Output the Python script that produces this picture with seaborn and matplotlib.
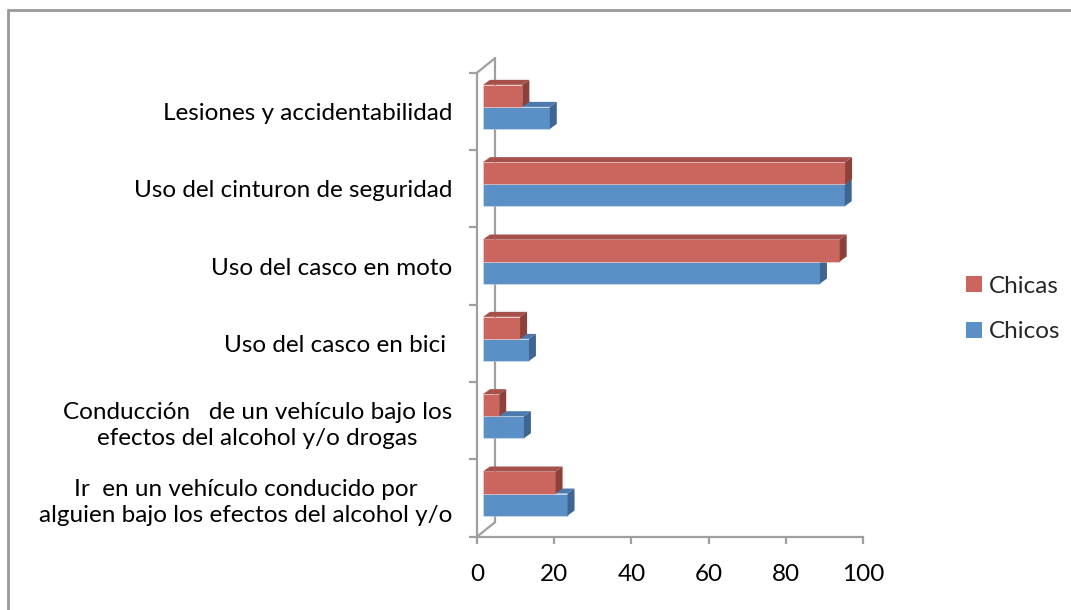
import matplotlib
matplotlib.use("Agg")
import matplotlib.pyplot as plt
from matplotlib.patches import Polygon, Patch
from matplotlib.lines import Line2D
import seaborn as sns
import pandas as pd

categories = [
    "Lesiones y accidentabilidad",
    "Uso del cinturon de seguridad",
    "Uso del casco en moto",
    "Uso del casco en bici ",
    "Conducción   de un vehículo bajo los\nefectos del alcohol y/o drogas",
    "Ir  en un vehículo conducido por\nalguien bajo los efectos del alcohol y/o",
]
chicas = [10.2, 93.8, 92.4, 9.6, 4.2, 18.8]
chicos = [17.3, 93.7, 87.3, 11.9, 10.6, 21.9]
series = ["Chicas", "Chicos"]
xticks = [0, 20, 40, 60, 80, 100]

front = {"Chicas": "#CA665E", "Chicos": "#5B90C6"}
top_c = {"Chicas": "#A5504A", "Chicos": "#4C7AAE"}
side_c = {"Chicas": "#8E403B", "Chicos": "#3F6592"}
grey = "#A0A0A0"

df = pd.DataFrame({
    "cat": categories * 2,
    "val": chicas + chicos,
    "serie": ["Chicas"] * len(categories) + ["Chicos"] * len(categories),
})

sns.set_theme(style="white")
plt.rcParams["font.family"] = ["Lato", "DejaVu Sans"]
FS = 17.5

W, H = 1071, 610
fig = plt.figure(figsize=(W / 100, H / 100), dpi=100)
ax_left, ax_right, ax_top, ax_bot = 477, 863, 72.7, 536.7
ax = fig.add_axes([ax_left / W, 1 - ax_bot / H, (ax_right - ax_left) / W, (ax_bot - ax_top) / H])

sns.barplot(data=df, y="cat", x="val", hue="serie", hue_order=series, order=categories,
            orient="h", palette=front, width=0.57, saturation=1, linewidth=0,
            legend=False, ax=ax)

ax.set_xlim(0, 100)
ax.set_ylim(len(categories) - 0.5, -0.5)

px_x = 100 / (ax_right - ax_left)           # data units per pixel (x)
px_y = len(categories) / (ax_bot - ax_top)  # data units per pixel (y)

off_x, off_y = 6 * px_x, 4.5 * px_y   # front face offset from front plane
dep_x, dep_y = 7 * px_x, 5 * px_y     # bar depth projection
wall_x, wall_y = 18 * px_x, 14.5 * px_y

bars = list(ax.patches)
for p in bars:
    fc = p.get_facecolor()
    name = "Chicas" if abs(fc[0] - 0.79) < 0.05 else "Chicos"
    z = 3 if name == "Chicas" else 2
    x0 = p.get_x() + off_x
    y0 = p.get_y() - off_y
    w = p.get_width()
    h = p.get_height()
    p.set_x(x0)
    p.set_y(y0)
    p.set_zorder(z)
    p.set_edgecolor((1, 1, 1, 0.35))
    p.set_linewidth(0.6)
    x1 = x0 + w
    ytop, ybot = y0, y0 + h
    topface = Polygon([(x0, ytop), (x1, ytop), (x1 + dep_x, ytop - dep_y), (x0 + dep_x, ytop - dep_y)],
                      closed=True, facecolor=top_c[name], edgecolor="none", zorder=z, clip_on=False)
    sideface = Polygon([(x1, ytop), (x1 + dep_x, ytop - dep_y), (x1 + dep_x, ybot - dep_y), (x1, ybot)],
                       closed=True, facecolor=side_c[name], edgecolor="none", zorder=z, clip_on=False)
    ax.add_patch(topface)
    ax.add_patch(sideface)

# walls
ylo, yhi = -0.5, len(categories) - 0.5
ax.plot([0, wall_x], [ylo, ylo - wall_y], color=grey, lw=1.6, clip_on=False, zorder=1)
ax.plot([wall_x, wall_x], [ylo - wall_y, yhi - wall_y], color=grey, lw=1.6, clip_on=False, zorder=1)
ax.plot([0, wall_x], [yhi, yhi - wall_y], color=grey, lw=1.6, clip_on=False, zorder=1)

for s in ["top", "right"]:
    ax.spines[s].set_visible(False)
for s in ["left", "bottom"]:
    ax.spines[s].set_color(grey)
    ax.spines[s].set_linewidth(1.6)

ax.set_xticks(xticks)
ax.set_xticklabels([str(t) for t in xticks])
ax.set_yticks(range(len(categories)))
ax.set_yticks([i - 0.5 for i in range(len(categories) + 1)], minor=True)
ax.tick_params(axis="x", which="major", length=5, width=1.6, color=grey, direction="out",
               bottom=True, pad=15, labelsize=FS, labelcolor="black")
ax.tick_params(axis="y", which="major", length=0, pad=18, labelsize=FS, labelcolor="black")
ax.tick_params(axis="y", which="minor", length=6, width=1.6, color=grey, direction="out", left=True)
for lab in ax.get_yticklabels():
    lab.set_multialignment("center")
    lab.set_linespacing(1.3)
ax.set_xlabel("")
ax.set_ylabel("")
ax.grid(False)

handles = [Patch(facecolor=front[s], edgecolor="none", label=s) for s in series]
fig.legend(handles=handles, loc="center left", bbox_to_anchor=(966 / W, 1 - 309 / H),
           bbox_transform=fig.transFigure, frameon=False, fontsize=FS,
           handlelength=0.65, handleheight=0.65, handletextpad=0.3,
           labelspacing=1.0, borderpad=0, borderaxespad=0)

# chart-area border
fig.add_artist(Line2D([7.5 / W, 1.0], [1 - 10 / H, 1 - 10 / H], transform=fig.transFigure, color="#999999", lw=2))
fig.add_artist(Line2D([7.5 / W, 7.5 / W], [0, 1 - 10 / H], transform=fig.transFigure, color="#999999", lw=2))

fig.savefig("out.png", dpi=100)
